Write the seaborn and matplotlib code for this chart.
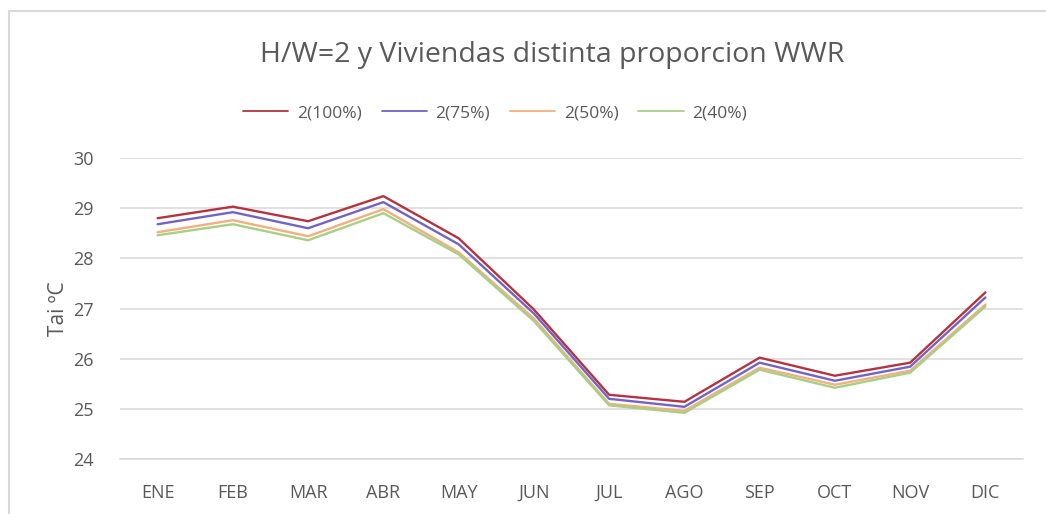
import matplotlib
matplotlib.use("Agg")
import matplotlib.pyplot as plt
from matplotlib.patches import Rectangle
from matplotlib.lines import Line2D
import seaborn as sns
import pandas as pd

months = ["ENE", "FEB", "MAR", "ABR", "MAY", "JUN", "JUL", "AGO", "SEP", "OCT", "NOV", "DIC"]
series_names = ["2(100%)", "2(75%)", "2(50%)", "2(40%)"]
wwr_100 = [28.80, 29.03, 28.74, 29.24, 28.40, 26.98, 25.28, 25.14, 26.02, 25.66, 25.92, 27.32]
wwr_75 = [28.68, 28.92, 28.60, 29.12, 28.28, 26.90, 25.20, 25.04, 25.92, 25.56, 25.84, 27.22]
wwr_50 = [28.52, 28.76, 28.44, 28.98, 28.12, 26.80, 25.10, 24.96, 25.82, 25.48, 25.76, 27.08]
wwr_40 = [28.46, 28.68, 28.36, 28.90, 28.08, 26.75, 25.07, 24.92, 25.78, 25.42, 25.72, 27.04]
y_ticks = [24, 25, 26, 27, 28, 29, 30]

colors = ["#B5333F", "#7264C4", "#F2B07E", "#A8CF86"]

df = pd.DataFrame({
    "mes": months * 4,
    "Tai": wwr_100 + wwr_75 + wwr_50 + wwr_40,
    "serie": [s for s in series_names for _ in months],
})

sns.set_theme(style="white")
plt.rcParams["font.family"] = ["Open Sans", "DejaVu Sans"]
text_color = "#595959"
grid_color = "#D9D9D9"

fig = plt.figure(figsize=(10.46, 5.14), dpi=100)
ax = fig.add_axes([120 / 1046, 1 - 459 / 514, (1023 - 120) / 1046, (459 - 158) / 514])

sns.lineplot(data=df, x="mes", y="Tai", hue="serie", hue_order=series_names,
             palette=colors, linewidth=1.7, sort=False, ax=ax, legend=False)

ax.set_xlim(-0.5, len(months) - 0.5)
ax.set_ylim(24, 30)
ax.set_yticks(y_ticks)
ax.set_xticks(range(len(months)))
ax.set_xticklabels(months)
ax.yaxis.grid(True, color=grid_color, linewidth=1.1)
ax.set_axisbelow(True)
for side in ["top", "right", "left"]:
    ax.spines[side].set_visible(False)
ax.spines["bottom"].set_color(grid_color)
ax.spines["bottom"].set_linewidth(1.1)
ax.tick_params(axis="both", length=0, labelsize=13, labelcolor=text_color)
ax.tick_params(axis="x", pad=18)
ax.tick_params(axis="y", pad=19)
ax.set_xlabel("")
ax.set_ylabel("Tai ºC", fontsize=15, color=text_color, labelpad=3)

fig.text(552 / 1046, 1 - 55 / 514, "H/W=2 y Viviendas distinta proporcion WWR",
         ha="center", va="center", fontsize=20.5, color=text_color)

handles = [Line2D([], [], color=c, linewidth=1.3) for c in colors]
fig.legend(handles, series_names, loc="center", bbox_to_anchor=(495 / 1046, 1 - 113 / 514),
           ncol=4, frameon=False, fontsize=12.5, handlelength=2.6, columnspacing=1.15,
           handletextpad=0.5, labelcolor=text_color)

fig.patches.append(Rectangle((9 / 1046, -0.1), 1.2, 1 - 11 / 514 + 0.1,
                             transform=fig.transFigure, fill=False,
                             edgecolor=grid_color, linewidth=1.5))

fig.savefig("out.png", dpi=100, facecolor="white")
